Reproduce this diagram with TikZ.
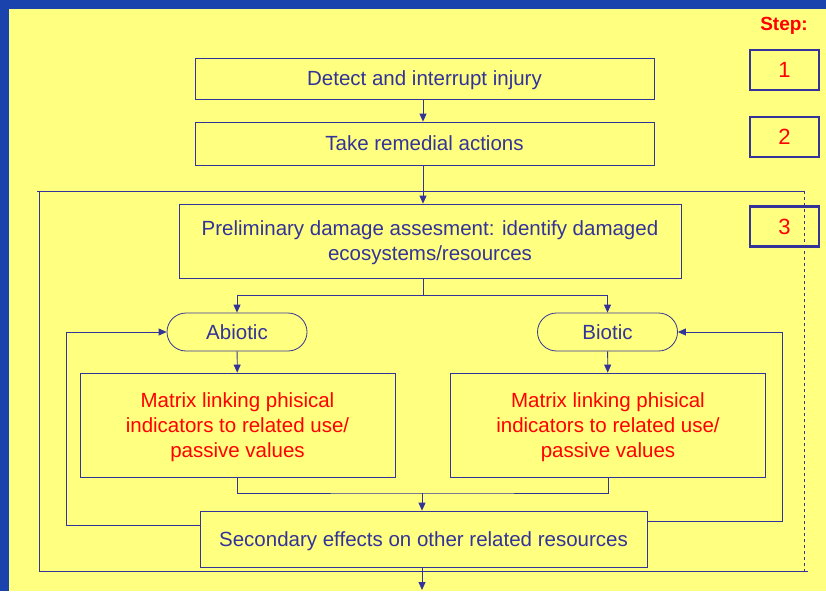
\documentclass[tikz,border=0pt]{standalone}
\usepackage{fontspec}
\setmainfont{Liberation Sans}
\usetikzlibrary{positioning,calc,arrows.meta}

\definecolor{slideblue}{HTML}{1A43AE}
\definecolor{panel}{HTML}{FFFF80}
\definecolor{linkblue}{HTML}{333399}
\definecolor{textred}{HTML}{FF0000}

\tikzset{
    flowbox/.style={draw=linkblue, line width=0.8pt, text=linkblue, align=center, inner sep=0pt,
        text depth=0pt, font=\fontsize{20.5}{25}\selectfont},
    pill/.style={flowbox, rounded corners=19pt, minimum width=140pt, minimum height=38pt},
    matrixbox/.style={flowbox, text=textred, minimum width=315pt, minimum height=104pt},
    stepbox/.style={draw=linkblue, line width=2.2pt, text=textred, minimum width=69pt, minimum height=40pt,
        inner sep=0pt, font=\fontsize{22}{26}\selectfont},
    link/.style={draw=linkblue, line width=0.8pt},
    arrow/.style={link, -{Triangle[length=8pt,width=7pt]}}
}

\begin{document}
\begin{tikzpicture}[x=1pt, y=-1pt]
    \fill[slideblue] (0,0) rectangle (826,591);
    \fill[panel] (9,9) rectangle (826,591);
    \useasboundingbox (0,0) rectangle (826,591);

    % steps column
    \node[text=textred, font=\bfseries\fontsize{19}{22}\selectfont] (steplabel) at (784,26) {Step:};
    \node[stepbox] (step1) at (784.5,70) {1};
    \node[stepbox] (step2) at (784.5,137) {2};
    \node[stepbox] (step3) at (784.5,226.5) {3};

    % outer frame of step 3
    \draw[link] (37,191) -- (805,191);
    \draw[link] (39,191) -- (39,571) -- (808,571);
    \draw[link, dashed, line width=0.6pt] (804,191) -- (804,571);

    \node[flowbox, minimum width=459pt, minimum height=41pt] (detect) at (424.5,78.5) {Detect and interrupt injury};
    \node[flowbox, minimum width=459pt, minimum height=43pt] (remedial) at (424.5,143.5) {Take remedial actions};
    \node[flowbox, minimum width=502pt, minimum height=74pt] (prelim) at (430,241)
        {Preliminary damage assesment: identify damaged\\ecosystems/resources};

    \node[pill] (abiotic) at (237,332) {Abiotic};
    \node[pill] (biotic) at (607.5,332) {Biotic};

    \node[matrixbox] (matleft) at (237.5,425) {Matrix linking phisical\\indicators to related use/\\passive values};
    \node[matrixbox] (matright) at (608,425) {Matrix linking phisical\\indicators to related use/\\passive values};

    \node[flowbox, minimum width=447pt, minimum height=56pt] (secondary) at (423.5,539)
        {Secondary effects on other related resources};

    \coordinate (split) at (423,295);
    \coordinate (join) at (422,493);
    \coordinate (leftloop) at (66,0);
    \coordinate (rightloop) at (782,0);
    \coordinate (exit) at (422,590);

    \draw[arrow] (detect.south -| split) -- (remedial.north -| split);
    \draw[arrow] (remedial.south -| split) -- (prelim.north -| split);

    \draw[link] (prelim.south -| split) -- (split);
    \draw[arrow] (split) -| (abiotic.north);
    \draw[arrow] (split) -| (biotic.north);
    \draw[arrow] (abiotic) -- (matleft);
    \draw[arrow] (biotic) -- (matright);

    \draw[link] (matleft.south) |- (join) -| (matright.south);
    \draw[arrow] (join) -- (secondary.north -| join);

    \draw[arrow] ([yshift=14pt]secondary.west) -| (leftloop |- abiotic.west) -- (abiotic.west);
    \draw[arrow] ([yshift=18pt]secondary.east) -| (rightloop |- biotic.east) -- (biotic.east);

    \draw[arrow] (secondary.south -| exit) -- (exit);
\end{tikzpicture}
\end{document}
